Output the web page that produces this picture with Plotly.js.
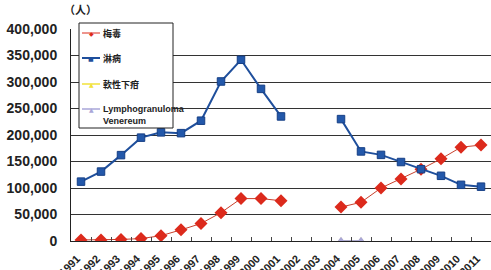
<!DOCTYPE html>
<html>
<head>
<meta charset="utf-8">
<script src="https://cdn.plot.ly/plotly-3.0.1.min.js"></script>
<style>html,body{margin:0;padding:0;background:#fff;}#chart{width:491px;height:270px;}</style>
</head>
<body>
<div id="chart"></div>
<script>
const years = ['1991','1992','1993','1994','1995','1996','1997','1998','1999','2000','2001','2002','2003','2004','2005','2006','2007','2008','2009','2010','2011'];
const syphilis = [2000,2000,3000,4500,10000,21000,33000,53500,80000,80000,76000,null,null,64000,73000,100000,117000,135500,155000,177000,181000];
const gonorrhea = [112000,131000,162000,195000,205000,203500,227000,301000,342000,287000,235000,null,null,230000,169000,162500,149000,135500,123000,106000,102500];
const chancroid = [null,null,null,null,null,null,null,null,null,null,null,null,null,300,300,null,null,null,null,null,null];
const lgv = [null,null,null,null,null,null,null,null,null,null,null,null,null,300,300,null,null,null,null,null,null];
const names = ['梅毒','淋病','軟性下疳','Lymphogranuloma<br>Venereum'];
const colors = ['#dc2a1c','#1f4f9c','#f2e23a','#a9a6d8'];
const symbolsTxt = ['◆','■','▲','▲'];

const traces = [
  {x: years, y: syphilis, name: names[0], mode:'lines+markers',
   line:{color:'#c8402c', width:1}, marker:{symbol:'diamond', size:10, color:colors[0]}},
  {x: years, y: gonorrhea, name: names[1], mode:'lines+markers',
   line:{color:colors[1], width:2}, marker:{symbol:'square', size:7.5, color:'#2358aa', line:{color:'#163f85', width:1}}},
  {x: years, y: chancroid, name: names[2], mode:'lines+markers',
   line:{color:colors[2], width:1.5}, marker:{symbol:'triangle-up', size:7, color:colors[2]}},
  {x: years, y: lgv, name: names[3], mode:'lines+markers',
   line:{color:colors[3], width:1.5}, marker:{symbol:'triangle-up', size:8, color:colors[3]}}
];

// pixel -> paper helpers for the hand-drawn legend box
const L = 71, T = 29, W = 420, H = 212;
const X = px => (px - L) / W;
const Y = py => (T + H - py) / H;

const shapes = [
  {type:'rect', xref:'paper', yref:'paper', x0:X(79), x1:X(173), y0:Y(23), y1:Y(128),
   line:{color:'#222', width:1}, fillcolor:'#fff', layer:'above'}
];
const annotations = [
  {text:'（人）', xref:'paper', yref:'paper', x:X(62), y:Y(19), xanchor:'left', yanchor:'bottom', showarrow:false,
   font:{family:'Noto Sans CJK TC, sans-serif', size:11, color:'#222', weight:'bold'}}
];
const rowY = [33, 58, 84, 109];
const lineW = [1, 2, 1.5, 1.5];
names.forEach((n, i) => {
  shapes.push({type:'line', xref:'paper', yref:'paper', x0:X(82), x1:X(100), y0:Y(rowY[i]), y1:Y(rowY[i]),
    line:{color:colors[i], width:lineW[i]}, layer:'above'});
  annotations.push({text:symbolsTxt[i], xref:'paper', yref:'paper', x:X(91), y:Y(rowY[i]), xanchor:'center', yanchor:'middle',
    showarrow:false, font:{family:'DejaVu Sans', size:6, color:colors[i]}});
  annotations.push({text:n, xref:'paper', yref:'paper', x:X(101), y:Y(rowY[i] - 7), xanchor:'left', yanchor:'top',
    align:'left', showarrow:false,
    font:{family:'Liberation Sans, Noto Sans CJK TC, sans-serif', size:9, color:'#222', weight:'bold'}});
});

const layout = {
  width: 491, height: 270,
  margin: {l: L, r: 491 - L - W, t: T, b: 270 - T - H},
  paper_bgcolor: '#fff', plot_bgcolor: '#fff',
  showlegend: false,
  xaxis: {type:'category', range:[-0.5, 20.5], showgrid:false, showline:true, linecolor:'#222', linewidth:1,
    ticks:'inside', ticklen:4, tickcolor:'#444', tickson:'boundaries', tickangle:-45, automargin:false,
    ticklabelstandoff:6, ticklabelshift:-4,
    tickfont:{family:'Liberation Sans, Arial, sans-serif', size:11, color:'#222', weight:'bold'}},
  yaxis: {range:[0, 400000], dtick:50000, tickformat:',', showgrid:true, gridcolor:'#333', gridwidth:1,
    showline:true, linecolor:'#222', linewidth:1, zeroline:false, ticks:'', automargin:false, ticklabelstandoff:10,
    tickfont:{family:'Liberation Sans, Arial, sans-serif', size:14, color:'#222', weight:'bold'}},
  shapes: shapes,
  annotations: annotations
};
Plotly.newPlot('chart', traces, layout, {displayModeBar:false, staticPlot:true});
</script>
</body>
</html>
